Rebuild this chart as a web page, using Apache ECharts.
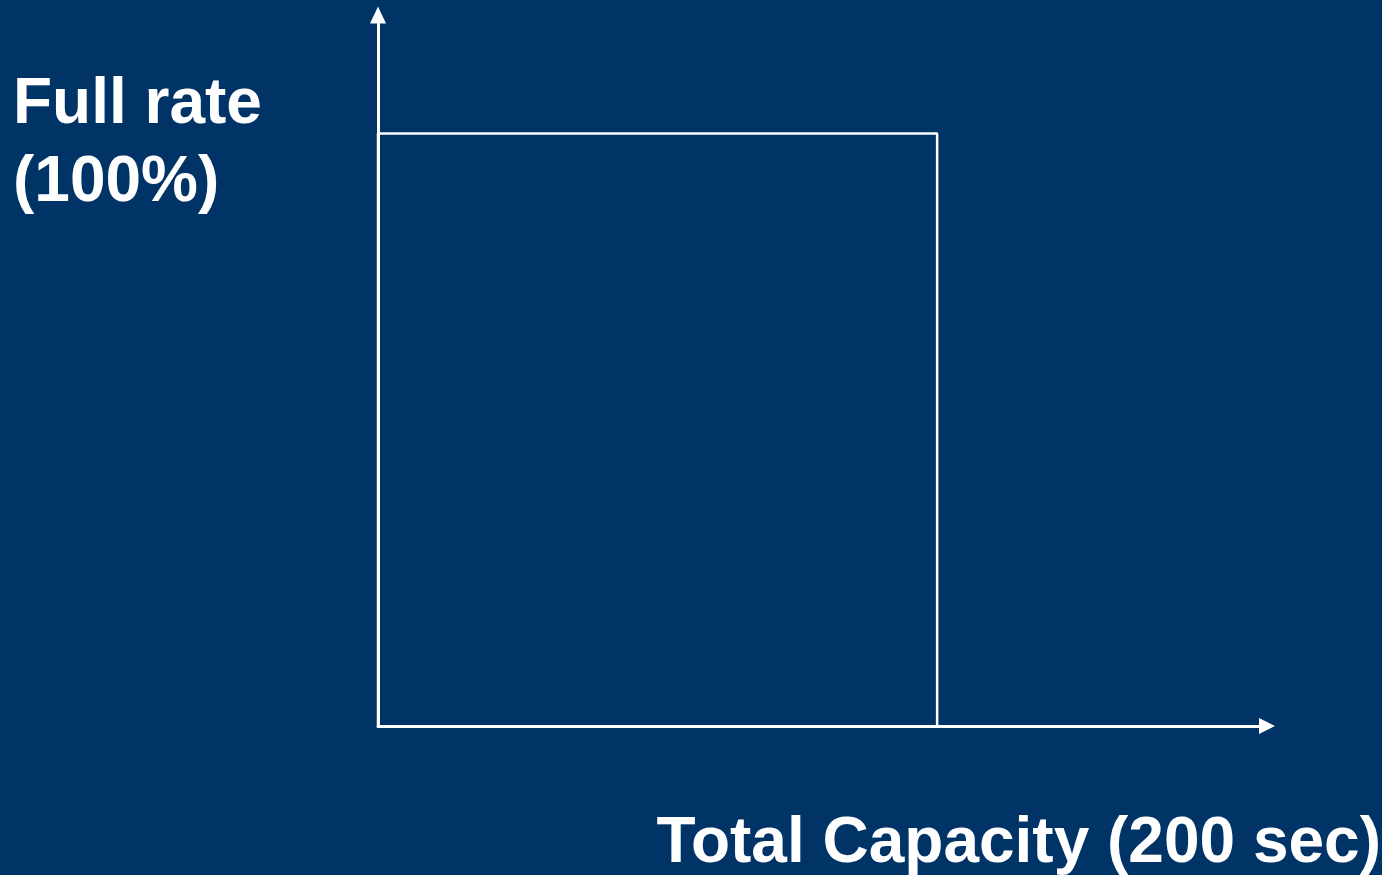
<!DOCTYPE html>
<html>
<head>
<meta charset="utf-8">
<title>Full rate vs Total Capacity</title>
<script src="https://cdn.jsdelivr.net/npm/echarts@6/dist/echarts.min.js"></script>
<style>
  html, body { margin: 0; padding: 0; background: #003366; }
  #chart { width: 1382px; height: 875px; }
</style>
</head>
<body>
<div id="chart"></div>
<script>
// Outline of the capacity block: full rate held for the whole capacity window
const timeSec = [0, 0, 200, 200];
const ratePct = [0, 100, 100, 0];

// Axis extents (arrows sit at the ends)
const xAxisMax = 318;
const yAxisMax = 120;

// Labels
const yLabel = 'Full rate\n(100%)';
const xLabel = 'Total Capacity (200 sec)';

const outline = timeSec.map((t, i) => [t, ratePct[i]]);

const fontFamily = '"Liberation Sans", Arial, Helvetica, sans-serif';
const white = '#ffffff';

const chart = echarts.init(document.getElementById('chart'), null, { renderer: 'canvas' });

chart.setOption({
  backgroundColor: '#003366',
  animation: false,
  title: [
    {
      text: yLabel,
      left: 13,
      top: 66,
      padding: 0,
      textStyle: { color: white, fontFamily, fontWeight: 'bold', fontSize: 64, lineHeight: 78 }
    },
    {
      text: xLabel,
      right: 1,
      top: 808,
      padding: 0,
      textStyle: { color: white, fontFamily, fontWeight: 'bold', fontSize: 64, lineHeight: 72 }
    }
  ],
  grid: { left: 378, right: 115, top: 15, bottom: 149, containLabel: false },
  xAxis: {
    type: 'value',
    min: 0,
    max: xAxisMax,
    axisLine: {
      show: true,
      symbol: ['none', 'triangle'],
      symbolSize: [16, 16],
      lineStyle: { color: white, width: 3 }
    },
    axisTick: { show: false },
    axisLabel: { show: false },
    splitLine: { show: false }
  },
  yAxis: {
    type: 'value',
    min: 0,
    max: yAxisMax,
    axisLine: {
      show: true,
      symbol: ['none', 'triangle'],
      symbolSize: [16, 17],
      lineStyle: { color: white, width: 3 }
    },
    axisTick: { show: false },
    axisLabel: { show: false },
    splitLine: { show: false }
  },
  series: [
    {
      type: 'line',
      data: outline,
      showSymbol: false,
      symbol: 'none',
      clip: false,
      lineStyle: { color: white, width: 2.5 },
      z: 1
    }
  ]
});
</script>
</body>
</html>
